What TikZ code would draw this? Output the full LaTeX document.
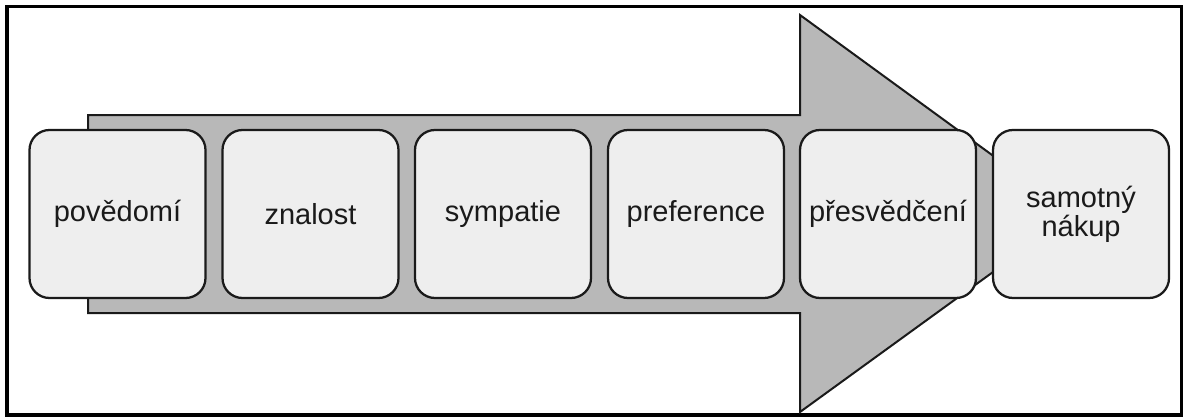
\documentclass[tikz,border=0pt]{standalone}
\usepackage{fontspec}
\setmainfont{Liberation Sans}
\definecolor{arrowgray}{HTML}{B8B8B8}
\definecolor{boxgray}{HTML}{EEEEEE}
\definecolor{inkgray}{HTML}{1A1A1A}
\begin{document}
\begin{tikzpicture}[x=0.75pt,y=-0.75pt,
  stage/.style={draw=inkgray, line width=1.7pt, fill=boxgray, rounded corners=15pt,
    minimum width=132pt, minimum height=126pt, inner sep=0pt,
    font=\fontsize{21.75pt}{19.5pt}\selectfont, text=inkgray, align=center},
  bigarrow/.style={draw=inkgray, fill=arrowgray, line width=1.5pt, line join=miter},
  frame/.style={draw=black, line width=2.6pt}]
\useasboundingbox (0,0) rectangle (1188,418);
\draw[frame] (7,6.5) rectangle (1181.5,415);
\draw[bigarrow] (88,115) -- (800,115) -- (800,15) -- (1073,214) -- (800,412) -- (800,313) -- (88,313) -- cycle;
\node[stage] (b1) at (117.5,214) {povědomí};
\node[stage] (b2) at (310.5,214) {znalost};
\node[stage] (b3) at (503,214) {sympatie};
\node[stage] (b4) at (696,214) {preference};
\node[stage] (b5) at (888,214) {přesvědčení};
\node[stage] (b6) at (1081,214) {samotný\\nákup};
\end{tikzpicture}
\end{document}
